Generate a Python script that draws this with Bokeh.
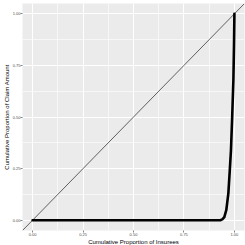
from bokeh.plotting import figure
from bokeh.models import FixedTicker, NumeralTickFormatter, Slope, Range1d
from bokeh.embed import file_html
from bokeh.resources import INLINE

# Cumulative proportion of insurees vs cumulative proportion of claim amount
cum_insurees = [0.0, 0.93, 0.94, 0.95, 0.96, 0.97, 0.977, 0.983, 0.989, 0.995, 0.998, 1.0]
cum_claims = [0.0, 0.0, 0.004, 0.015, 0.05, 0.13, 0.24, 0.34, 0.5, 0.68, 0.85, 1.0]
tick_values = [0.0, 0.25, 0.5, 0.75, 1.0]
minor_values = [0.125, 0.375, 0.625, 0.875]

p = figure(frame_width=222, frame_height=227, output_backend="svg", toolbar_location=None,
           x_range=Range1d(-0.05, 1.05), y_range=Range1d(-0.05, 1.05))
p.background_fill_color = "#EBEBEB"
p.border_fill_color = "white"
p.outline_line_color = None
p.min_border_left = 0
p.min_border_right = 3
p.min_border_top = 3
p.min_border_bottom = 0

for g in (p.xgrid, p.ygrid):
    g.grid_line_color = "white"
    g.grid_line_width = 1
    g.minor_grid_line_color = "white"
    g.minor_grid_line_width = 0.6

for ax in (p.xaxis, p.yaxis):
    ax.ticker = FixedTicker(ticks=tick_values, minor_ticks=minor_values)
    ax.formatter = NumeralTickFormatter(format="0.00")
    ax.axis_line_color = None
    ax.major_tick_line_color = "#333333"
    ax.major_tick_line_width = 0.6
    ax.major_tick_out = 2
    ax.major_tick_in = 0
    ax.minor_tick_out = 0
    ax.minor_tick_in = 0
    ax.major_label_text_font = "Liberation Sans"
    ax.major_label_text_font_size = "4px"
    ax.major_label_text_color = "#4D4D4D"
    ax.major_label_standoff = 0
    ax.axis_label_text_font = "Liberation Sans"
    ax.axis_label_text_font_size = "6px"
    ax.axis_label_text_font_style = "normal"
    ax.axis_label_text_color = "black"
    ax.axis_label_standoff = 0

p.xaxis.axis_label = "Cumulative Proportion of Insurees"
p.yaxis.axis_label = "Cumulative Proportion of Claim Amount"

p.add_layout(Slope(gradient=1, y_intercept=0, line_color="black", line_width=0.6))
p.line(cum_insurees, cum_claims, line_color="black", line_width=2.6, line_join="round", line_cap="round")

open("out.html", "w").write(file_html(p, INLINE))
